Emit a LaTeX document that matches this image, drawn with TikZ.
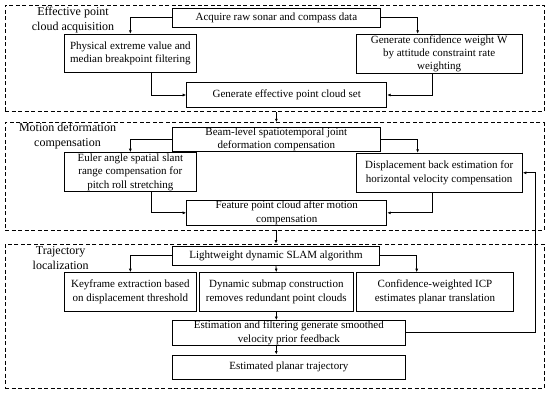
\documentclass[tikz,border=0pt]{standalone}
\usepackage{fontspec}
\setmainfont{Liberation Serif}
\usetikzlibrary{calc,arrows.meta}

\begin{document}
\begin{tikzpicture}[x=1pt,y=-1pt,
  box/.style={draw,line width=1pt,align=center,inner xsep=2pt,inner ysep=0.5pt,
    font=\fontsize{11}{13.3}\selectfont},
  panel/.style={draw,dash pattern=on 4pt off 2.5pt,line width=0.9pt,inner sep=0pt,
    minimum width=539pt},
  lab/.style={align=center,font=\fontsize{12}{14.5}\selectfont},
  arr/.style={-{Latex[length=3.5pt,width=3pt]},line width=0.8pt}]
  \useasboundingbox (0,0) rectangle (550,394);
  % dashed stages
  \node[panel,minimum height=106.7pt] (p1) at (274.5,58.35) {};
  \node[panel,minimum height=107.3pt] (p2) at (274.5,176.35) {};
  \node[panel,minimum height=144.3pt] (p3) at (274.5,316.15) {};
  \node[lab] (lab1) at (73,20.3) {Effective point\\cloud acquisition};
  \node[lab] (lab2) at (67.5,136.2) {Motion deformation\\compensation};
  \node[lab] (lab3) at (60.7,257.9) {Trajectory\\localization};
  % stage 1
  \node[box,minimum width=207.3pt,minimum height=19pt] (acq) at (276.35,17.5)
    {Acquire raw sonar and compass data};
  \node[box,minimum width=132.7pt,minimum height=38.4pt] (phys) at (130.35,53.5)
    {Physical extreme value and\\median breakpoint filtering};
  \node[box,minimum width=166.3pt,minimum height=39pt] (conf) at (439.15,53.8)
    {Generate confidence weight W\\by attitude constraint rate\\weighting};
  \node[box,minimum width=200pt,minimum height=24.6pt] (eff) at (286.7,95)
    {Generate effective point cloud set};
  % stage 2
  \node[box,minimum width=207.3pt,minimum height=22.7pt] (beam) at (276.35,139.35)
    {Beam-level spatiotemporal joint\\deformation compensation};
  \node[box,minimum width=132.7pt,minimum height=39pt] (euler) at (130.35,172.2)
    {Euler angle spatial slant\\range compensation for\\pitch roll stretching};
  \node[box,minimum width=166.3pt,minimum height=39pt] (disp) at (439.15,172.8)
    {Displacement back estimation for\\horizontal velocity compensation};
  \node[box,minimum width=200pt,minimum height=24.3pt] (feat) at (286.7,212.85)
    {Feature point cloud after motion\\compensation};
  % stage 3
  \node[box,minimum width=206.6pt,minimum height=18.3pt] (lw) at (276,255.85)
    {Lightweight dynamic SLAM algorithm};
  \node[box,minimum width=132.7pt,minimum height=38.3pt] (key) at (130.35,291.85)
    {Keyframe extraction based\\on displacement threshold};
  \node[box,minimum width=154pt,minimum height=38.3pt] (dyn) at (276.3,291.85)
    {Dynamic submap construction\\removes redundant point clouds};
  \node[box,minimum width=156.6pt,minimum height=38.3pt] (icp) at (435,291.85)
    {Confidence-weighted ICP\\estimates planar translation};
  \node[box,minimum width=232.3pt,minimum height=24.3pt] (est) at (288.85,332.85)
    {Estimation and filtering generate smoothed\\velocity prior feedback};
  \node[box,minimum width=232.3pt,minimum height=24.3pt] (plan) at (288.85,367.15)
    {Estimated planar trajectory};
  \coordinate (fb) at (535.7,332.85);
  % connectors
  \draw[arr] (acq.west) -| (phys.north);
  \draw[arr] (acq.east) -| ([xshift=-21.5pt]conf.north);
  \draw[arr] ([xshift=21.3pt]phys.south) |- (eff.west);
  \draw[arr] ([xshift=-6.4pt]conf.south) |- (eff.east);
  \draw[arr] (p1.south -| beam.north) -- (p2.north -| beam.north);
  \draw[arr] (beam.west) -| (euler.north);
  \draw[arr] (beam.east) -| ([xshift=-21.5pt]disp.north);
  \draw[arr] ([xshift=21.3pt]euler.south) |- (feat.west);
  \draw[arr] ([xshift=-6.4pt]disp.south) |- (feat.east);
  \draw[arr] (p2.south -| lw.north) -- (p3.north -| lw.north);
  \draw[arr] (lw.west) -| (key.north);
  \draw[arr] (lw.south) -- (dyn.north);
  \draw[arr] (lw.east) -| ([xshift=-18.3pt]icp.north);
  \draw[arr] (dyn.south) -- (dyn.south |- est.north);
  \draw[arr] (est.south -| dyn.south) -- (plan.north -| dyn.south);
  \draw[arr] (est.east) -- (fb) |- (disp.east);
\end{tikzpicture}
\end{document}
